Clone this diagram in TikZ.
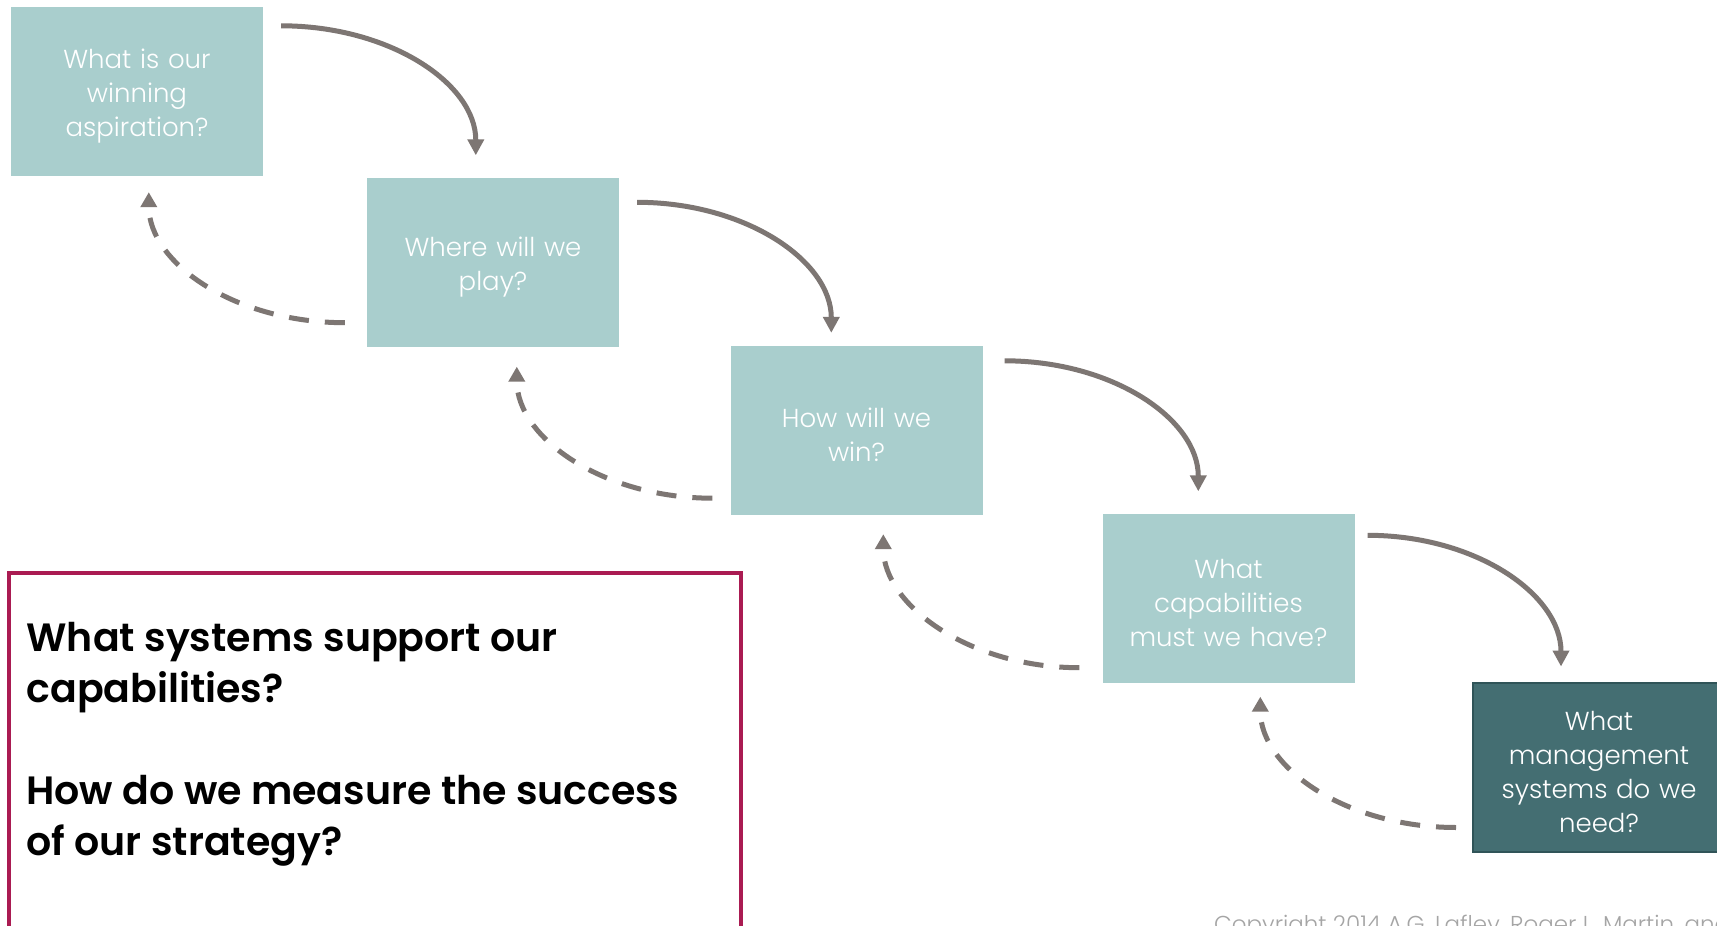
\documentclass[tikz,border=0pt]{standalone}
\usepackage{fontspec}
\setmainfont{Poppins}
\newfontfamily\boxfont{Poppins Light}
\newfontfamily\sysfont{Poppins SemiBold}
\usetikzlibrary{arrows.meta,calc}
\definecolor{tealA}{RGB}{169,206,205}
\definecolor{tealB}{RGB}{68,110,114}
\definecolor{tealBb}{RGB}{48,84,88}
\definecolor{arrowgrey}{RGB}{125,118,115}
\definecolor{redb}{RGB}{170,27,82}
\definecolor{copygrey}{RGB}{165,165,165}
\tikzset{
  qbox/.style={rectangle, fill=tealA, minimum width=252pt, minimum height=169pt,
    inner sep=0pt, text=white, align=center, text width=244pt,
    font=\boxfont\fontsize{26}{34}\selectfont,
    execute at begin node={\rule{0pt}{29pt}}},
  qboxdark/.style={qbox, fill=tealB, draw=tealBb, line width=2pt},
  fwd/.style={draw=arrowgrey, line width=5pt,
    -{Triangle[length=16pt,width=16pt]}},
  back/.style={draw=arrowgrey, line width=5pt, dash pattern=on 20pt off 16pt,
    -{Triangle[length=15pt,width=16pt]}},
  redbox/.style={rectangle, draw=redb, line width=3.5pt, fill=white,
    minimum width=732pt, minimum height=355pt, inner sep=0pt},
  systext/.style={anchor=north west, inner sep=0pt, align=left, text=black,
    font=\sysfont\fontsize{39.5}{51}\selectfont},
  copytext/.style={anchor=base west, inner sep=0pt, text=copygrey,
    font=\boxfont\fontsize{23}{26}\selectfont}
}
\begin{document}
\begin{tikzpicture}[x=1pt,y=-1pt]
\useasboundingbox (0,0) rectangle (1717,926);
\clip (0,0) rectangle (1717,926);
\fill[white] (0,0) rectangle (1717,926);

\node[qbox] (b1) at (137,91.5) {What is our\\winning\\aspiration?};
\node[qbox] (b2) at (493,262) {Where will we\\play?};
\node[qbox] (b3) at (856.5,430.5) {How will we\\win?};
\node[qbox] (b4) at (1228.5,598) {What\\capabilities\\must we have?};
\node[qboxdark] (b5) at (1599,767) {What\\management\\systems do we\\need?};

\draw[fwd] ($(b1.north east)+(18,19)$) .. controls +(108,0) and +(0,-72) .. ($(b2.north west)+(109,-22)$);
\draw[fwd] ($(b2.north east)+(18,25)$) .. controls +(108,0) and +(0,-72) .. ($(b3.north west)+(101,-13)$);
\draw[fwd] ($(b3.north east)+(22,15)$) .. controls +(108,0) and +(0,-72) .. ($(b4.north west)+(96,-22)$);
\draw[fwd] ($(b4.north east)+(13,22)$) .. controls +(108,0) and +(0,-72) .. ($(b5.north west)+(89,-15)$);

\draw[back] ($(b2.south west)+(-22,-24)$) .. controls +(-108,0) and +(0,72) .. ($(b1.south west)+(138,16)$);
\draw[back] ($(b3.south west)+(-18,-17)$) .. controls +(-108,0) and +(0,72) .. ($(b2.south west)+(150,20)$);
\draw[back] ($(b4.south west)+(-23,-15)$) .. controls +(-108,0) and +(0,72) .. ($(b3.south west)+(153,19)$);
\draw[back] ($(b5.south west)+(-16,-25)$) .. controls +(-108,0) and +(0,72) .. ($(b4.south west)+(158,14)$);

\node[redbox] (sys) at (375,750.5) {};
\node[systext] (syst) at ($(sys.north west)+(19,51)$) {What systems support our\\capabilities?\\[51pt]How do we measure the success\\of our strategy?};

\node[copytext] (copy) at (1214,932) {Copyright 2014 A.G. Lafley, Roger L. Martin, and};
\end{tikzpicture}
\end{document}
